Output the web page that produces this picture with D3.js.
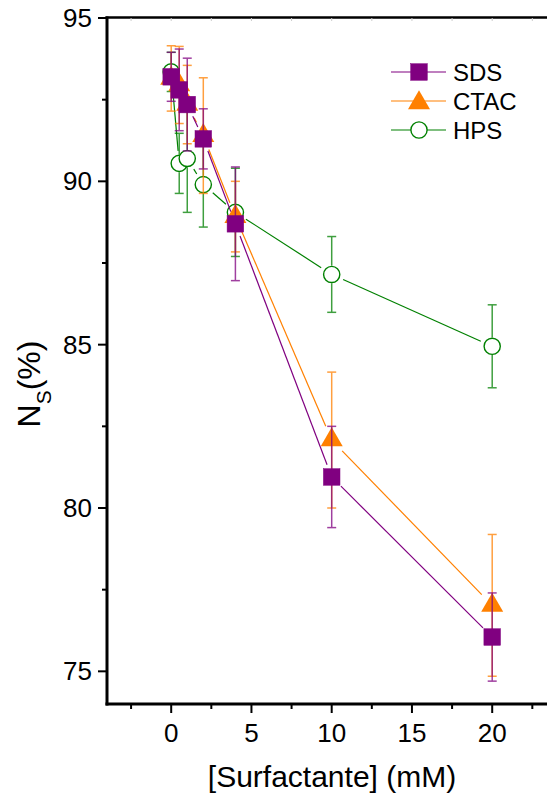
<!DOCTYPE html>
<html>
<head>
<meta charset="utf-8">
<script src="https://cdn.jsdelivr.net/npm/d3@7"></script>
<style>
  html, body { margin: 0; padding: 0; background: #fff; }
  svg { display: block; }
  text { font-family: "Liberation Sans", Arial, sans-serif; fill: #000; }
</style>
</head>
<body>
<svg id="chart" width="547" height="795"></svg>
<script>
// Surfactant concentration (mM)
const conc = [0, 0.5, 1, 2, 4, 10, 20];

// N_S (%) per surfactant, with standard deviations
const sdsValues  = [93.2, 92.8, 92.35, 91.3, 88.7, 80.95, 76.05];
const sdsErrors  = [0.75, 1.25, 1.42, 0.92, 1.74, 1.55, 1.35];
const ctacValues = [93.15, 92.95, 92.35, 91.4, 88.92, 82.08, 77.02];
const ctacErrors = [1.0, 1.18, 1.2, 1.77, 1.08, 2.08, 2.17];
const hpsValues  = [93.35, 90.55, 90.7, 89.9, 89.05, 87.15, 84.95];
const hpsErrors  = [0.6, 0.92, 1.65, 1.3, 1.35, 1.16, 1.27];

const seriesNames = ["SDS", "CTAC", "HPS"];
const xTicks = [0, 5, 10, 15, 20];
const yTicks = [75, 80, 85, 90, 95];
const xTitle = "[Surfactante] (mM)";

const svg = d3.select("#chart");
const plotLeft = 107, plotTop = 18, plotBottom = 704;
const x = d3.scaleLinear().domain([-4, 24]).range([plotLeft, plotLeft + 28 * 16.05]);
const y = d3.scaleLinear().domain([74, 95]).range([plotBottom, plotTop]);

const styles = {
  SDS:  { color: "#800080", shape: "square",   gap: 13 },
  CTAC: { color: "#ff8000", shape: "triangle", gap: 15 },
  HPS:  { color: "#008000", shape: "circle",   gap: 12.5 }
};

const series = [
  { name: "HPS",  values: hpsValues,  errors: hpsErrors },
  { name: "CTAC", values: ctacValues, errors: ctacErrors },
  { name: "SDS",  values: sdsValues,  errors: sdsErrors }
];

function drawMarker(g, shape, color, cx, cy) {
  if (shape === "square") {
    g.append("rect").attr("x", cx - 8.3).attr("y", cy - 8.3)
      .attr("width", 16.6).attr("height", 16.6)
      .attr("fill", color).attr("stroke", color).attr("stroke-width", 0.5);
  } else if (shape === "triangle") {
    g.append("path")
      .attr("d", `M${cx},${cy - 12.7}L${cx + 11},${cy + 6.3}L${cx - 11},${cy + 6.3}Z`)
      .attr("fill", color);
  } else {
    g.append("circle").attr("cx", cx).attr("cy", cy).attr("r", 8.1)
      .attr("fill", "#fff").attr("stroke", color).attr("stroke-width", 1.4);
  }
}

const plot = svg.append("g");

series.forEach(s => {
  const st = styles[s.name];
  const g = plot.append("g");
  const pts = conc.map((c, i) => [x(c), y(s.values[i])]);

  // connecting segments, broken around each marker
  for (let i = 0; i < pts.length - 1; i++) {
    const [x0, y0] = pts[i], [x1, y1] = pts[i + 1];
    const len = Math.hypot(x1 - x0, y1 - y0);
    if (len <= 2 * st.gap) continue;
    const ux = (x1 - x0) / len, uy = (y1 - y0) / len;
    g.append("line")
      .attr("x1", x0 + ux * st.gap).attr("y1", y0 + uy * st.gap)
      .attr("x2", x1 - ux * st.gap).attr("y2", y1 - uy * st.gap)
      .attr("stroke", st.color).attr("stroke-width", 1.2);
  }

  // markers and error bars
  conc.forEach((c, i) => {
    const cx = x(c);
    const cy = pts[i][1];
    const yHi = y(s.values[i] + s.errors[i]);
    const yLo = y(s.values[i] - s.errors[i]);
    drawMarker(g, st.shape, st.color, cx, cy);
    const eb = g.append("g").attr("stroke", st.color).attr("stroke-width", 1.5)
      .attr("opacity", 0.75);
    if (st.shape === "circle") {
      eb.append("line").attr("x1", cx).attr("x2", cx).attr("y1", yHi).attr("y2", cy - 8.8);
      eb.append("line").attr("x1", cx).attr("x2", cx).attr("y1", cy + 8.8).attr("y2", yLo);
    } else {
      eb.append("line").attr("x1", cx).attr("x2", cx).attr("y1", yHi).attr("y2", yLo);
    }
    eb.append("line").attr("x1", cx - 4.5).attr("x2", cx + 4.5).attr("y1", yHi).attr("y2", yHi);
    eb.append("line").attr("x1", cx - 4.5).attr("x2", cx + 4.5).attr("y1", yLo).attr("y2", yLo);
  });
});

// axes
const axisColor = "#000";
const xMinor = d3.range(-2.5, 24, 5);
const yMinor = [77.5, 82.5, 87.5, 92.5];

const xAxis = svg.append("g");
xAxis.append("line").attr("x1", plotLeft - 1.5).attr("x2", 547).attr("y1", plotBottom).attr("y2", plotBottom)
  .attr("stroke", axisColor).attr("stroke-width", 3);
xAxis.selectAll(".maj").data(xTicks).join("line")
  .attr("x1", d => x(d)).attr("x2", d => x(d)).attr("y1", plotBottom).attr("y2", plotBottom + 9)
  .attr("stroke", axisColor).attr("stroke-width", 2);
xAxis.selectAll(".min").data(xMinor).join("line")
  .attr("x1", d => x(d)).attr("x2", d => x(d)).attr("y1", plotBottom).attr("y2", plotBottom + 5)
  .attr("stroke", axisColor).attr("stroke-width", 2);
xAxis.selectAll("text").data(xTicks).join("text")
  .attr("x", d => x(d)).attr("y", 742).attr("text-anchor", "middle")
  .attr("font-size", 26).text(d => d);

// top frame with faint ticks
svg.append("line").attr("x1", plotLeft - 1.5).attr("x2", 547).attr("y1", 17.5).attr("y2", 17.5)
  .attr("stroke", axisColor).attr("stroke-width", 2.5);
svg.append("g").selectAll("line").data(xTicks.concat(xMinor)).join("line")
  .attr("x1", d => x(d)).attr("x2", d => x(d)).attr("y1", 18).attr("y2", 21)
  .attr("stroke", "#ccc").attr("stroke-width", 1);

const yAxis = svg.append("g");
yAxis.append("line").attr("x1", plotLeft).attr("x2", plotLeft).attr("y1", 16.5).attr("y2", plotBottom + 1.5)
  .attr("stroke", axisColor).attr("stroke-width", 3);
yAxis.selectAll(".maj").data(yTicks).join("line")
  .attr("x1", plotLeft - 9).attr("x2", plotLeft).attr("y1", d => y(d)).attr("y2", d => y(d))
  .attr("stroke", axisColor).attr("stroke-width", 2);
yAxis.selectAll(".min").data(yMinor).join("line")
  .attr("x1", plotLeft - 5).attr("x2", plotLeft).attr("y1", d => y(d)).attr("y2", d => y(d))
  .attr("stroke", axisColor).attr("stroke-width", 2);
yAxis.selectAll("text").data(yTicks).join("text")
  .attr("x", 92).attr("y", d => y(d) + 9).attr("text-anchor", "end")
  .attr("font-size", 26).text(d => d);

// axis titles
svg.append("text").attr("x", 332).attr("y", 787).attr("text-anchor", "middle")
  .attr("font-size", 30).text(xTitle);

const yt = svg.append("text").attr("transform", "translate(40,384) rotate(-90)")
  .attr("text-anchor", "middle").attr("font-size", 32);
yt.append("tspan").text("N");
yt.append("tspan").attr("font-size", 21).attr("dy", 11).text("S");
yt.append("tspan").attr("dy", -11).text("(%)");

// legend
const legend = svg.append("g");
const legendRows = [72, 101, 130];
seriesNames.forEach((name, i) => {
  const st = styles[name];
  const ly = legendRows[i];
  legend.append("line").attr("x1", 391).attr("x2", 446).attr("y1", ly).attr("y2", ly)
    .attr("stroke", st.color).attr("stroke-width", 1.2);
  drawMarker(legend, st.shape, st.color, 419, ly + (st.shape === "triangle" ? 2 : 0));
  legend.append("text").attr("x", 453).attr("y", ly + 8.5).attr("font-size", 24).text(name);
});
</script>
</body>
</html>
